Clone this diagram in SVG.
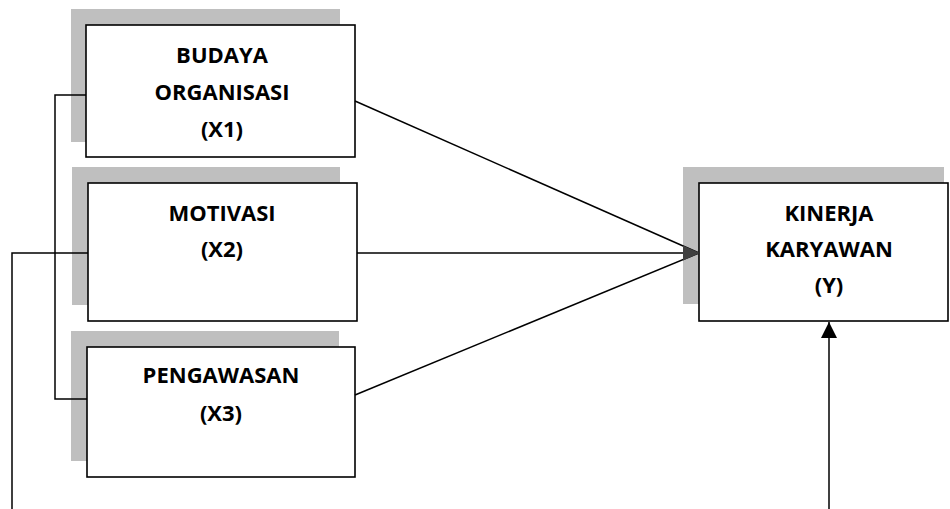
<svg xmlns="http://www.w3.org/2000/svg" width="950" height="509" viewBox="0 0 950 509">
  <style>
    .shadow { fill: #bfbfbf; }
    .box { fill: #ffffff; stroke: #000000; stroke-width: 1.6; }
    .label { font-family: "Open Sans", "Liberation Sans", sans-serif; font-weight: bold; font-size: 22px; fill: #000000; text-anchor: middle; }
    .wire { fill: none; stroke: #000000; stroke-width: 1.5; }
  </style>
  <defs>
    <marker id="headBlack" viewBox="0 0 16 16" refX="16" refY="8" markerWidth="16" markerHeight="16" markerUnits="userSpaceOnUse" orient="auto">
      <path d="M0,0 L16,8 L0,16 Z" fill="#000000"/>
    </marker>
  </defs>

  <!-- X1 -->
  <g id="budaya-organisasi">
    <rect class="shadow" x="71" y="9" width="269" height="133"/>
    <rect class="box" x="86" y="25" width="269" height="132"/>
    <text class="label" x="222" y="63">BUDAYA</text>
    <text class="label" x="222" y="100">ORGANISASI</text>
    <text class="label" x="222" y="137">(X1)</text>
  </g>

  <!-- X2 -->
  <g id="motivasi">
    <rect class="shadow" x="72" y="167" width="268" height="138"/>
    <rect class="box" x="88" y="183" width="269" height="138"/>
    <text class="label" x="222" y="221">MOTIVASI</text>
    <text class="label" x="222" y="257">(X2)</text>
  </g>

  <!-- X3 -->
  <g id="pengawasan">
    <rect class="shadow" x="71" y="331" width="268" height="130"/>
    <rect class="box" x="87" y="347" width="268" height="130"/>
    <text class="label" x="221" y="383">PENGAWASAN</text>
    <text class="label" x="221" y="421">(X3)</text>
  </g>

  <!-- Y -->
  <g id="kinerja-karyawan">
    <rect class="shadow" x="683" y="167" width="261" height="137"/>
    <rect class="box" x="699" y="183" width="249" height="138"/>
    <text class="label" x="829" y="221">KINERJA</text>
    <text class="label" x="829" y="257">KARYAWAN</text>
    <text class="label" x="829" y="293">(Y)</text>
  </g>

  <!-- connectors, drawn over the shadows -->
  <g id="connectors">
    <path class="wire" d="M86,95 H55 V399 H87"/>
    <path class="wire" d="M88,253 H12 V509"/>
    <line class="wire" x1="355" y1="101" x2="699" y2="253"/>
    <line class="wire" x1="357" y1="253" x2="690" y2="253" stroke-width="2"/>
    <line class="wire" x1="355" y1="395" x2="699" y2="253"/>
    <path d="M700,253 L683,245.5 L683,260.5 Z" fill="#404040"/>
    <line class="wire" x1="829" y1="509" x2="829" y2="322" stroke-width="2" marker-end="url(#headBlack)"/>
  </g>
</svg>
